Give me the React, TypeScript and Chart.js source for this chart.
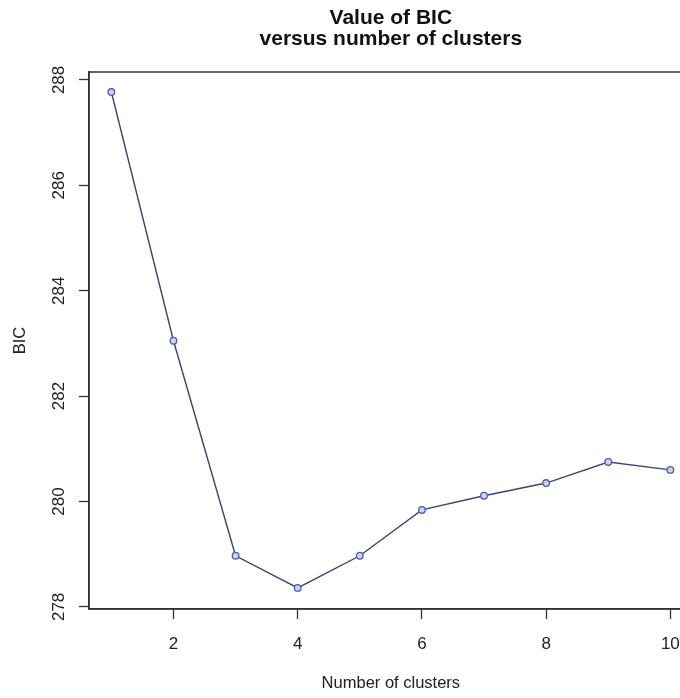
import React, { useEffect, useRef } from "react";
import { Chart, registerables } from "chart.js";

Chart.register(...registerables);

const clusters = [1, 2, 3, 4, 5, 6, 7, 8, 9, 10];
const bicValues = [287.77, 283.05, 278.97, 278.36, 278.97, 279.84, 280.11, 280.35, 280.75, 280.6];
const xTickValues = [2, 4, 6, 8, 10];
const yTickValues = [278, 280, 282, 284, 286, 288];
const titleLines = ["Value of BIC", "versus number of clusters"];
const xTitle = "Number of clusters";
const yTitle = "BIC";

const FONT = "'Liberation Sans', Arial, Helvetica, sans-serif";
const AXIS_COLOR = "#333333";

const boxAndYLabels = {
  id: "boxAndYLabels",
  afterDraw(chart: any) {
    const { ctx, chartArea } = chart;
    const { left, top, right, bottom } = chartArea;
    ctx.save();
    ctx.strokeStyle = AXIS_COLOR;
    ctx.lineWidth = 1.5;
    ctx.strokeRect(left, top, right - left, bottom - top);
    const ys = chart.scales.y;
    ctx.fillStyle = "#222222";
    ctx.font = `17px ${FONT}`;
    ctx.textAlign = "center";
    ctx.textBaseline = "middle";
    ys.ticks.forEach((t: any) => {
      const py = ys.getPixelForValue(t.value);
      ctx.save();
      ctx.translate(ys.right - 30, py);
      ctx.rotate(-Math.PI / 2);
      ctx.fillText(String(t.value), 0, 0);
      ctx.restore();
    });
    ctx.restore();
  },
};

export default function App() {
  const canvasRef = useRef<HTMLCanvasElement | null>(null);

  useEffect(() => {
    if (!canvasRef.current) return;
    const chart = new Chart(canvasRef.current, {
      type: "line",
      data: {
        datasets: [
          {
            data: clusters.map((c, i) => ({ x: c, y: bicValues[i] })),
            borderColor: "#3a4472",
            borderWidth: 1.4,
            pointRadius: 3.3,
            pointBorderWidth: 1.3,
            pointBorderColor: "#4f5c9e",
            pointBackgroundColor: "#cfd2ee",
            tension: 0,
            fill: false,
          },
        ],
      },
      options: {
        animation: false,
        responsive: false,
        layout: { padding: { left: 0, right: 0, top: 0, bottom: 0 } },
        plugins: {
          legend: { display: false },
          tooltip: { enabled: false },
          title: {
            display: true,
            text: titleLines,
            fullSize: false,
            color: "#111111",
            font: { family: FONT, size: 21, weight: "bold", lineHeight: 1.0 },
            padding: { top: 8, bottom: 22 },
          },
        },
        scales: {
          x: {
            type: "linear",
            min: 0.64,
            max: 10.36,
            afterBuildTicks: (scale: any) => {
              scale.ticks = xTickValues.map((v) => ({ value: v }));
            },
            afterFit: (scale: any) => {
              scale.height = 89;
            },
            grid: {
              drawOnChartArea: false,
              drawTicks: true,
              tickLength: 10,
              tickColor: AXIS_COLOR,
              tickWidth: 1.3,
            },
            border: { display: true, color: AXIS_COLOR, width: 1.5 },
            ticks: {
              color: "#222222",
              font: { family: FONT, size: 17 },
              padding: 15,
              maxRotation: 0,
              minRotation: 0,
              autoSkip: false,
            },
            title: {
              display: true,
              text: xTitle,
              color: "#222222",
              font: { family: FONT, size: 16.5 },
              padding: { top: 0, bottom: 5 },
            },
          },
          y: {
            type: "linear",
            min: 277.96,
            max: 288.15,
            afterBuildTicks: (scale: any) => {
              scale.ticks = yTickValues.map((v) => ({ value: v }));
            },
            afterFit: (scale: any) => {
              scale.width = 89;
            },
            grid: {
              drawOnChartArea: false,
              drawTicks: true,
              tickLength: 10,
              tickColor: AXIS_COLOR,
              tickWidth: 1.3,
            },
            border: { display: true, color: AXIS_COLOR, width: 1.5 },
            ticks: { display: false },
            title: {
              display: true,
              text: yTitle,
              color: "#222222",
              font: { family: FONT, size: 16.5 },
              padding: { top: 11, bottom: 0 },
            },
          },
        },
      },
      plugins: [boxAndYLabels],
    });
    return () => chart.destroy();
  }, []);

  return (
    <div
      style={{
        position: "fixed",
        left: 0,
        top: 0,
        width: 680,
        height: 698,
        overflow: "hidden",
        background: "#ffffff",
      }}
    >
      <canvas ref={canvasRef} width={698} height={698} style={{ display: "block" }} />
    </div>
  );
}
